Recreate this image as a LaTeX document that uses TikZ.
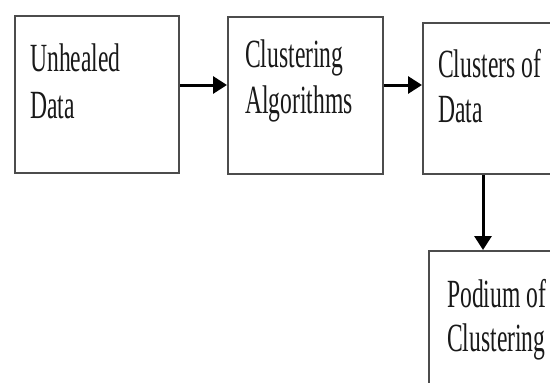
\documentclass[tikz,border=0pt]{standalone}
\usepackage{fontspec}
\setmainfont{Liberation Serif}
\usetikzlibrary{arrows.meta}
\tikzset{
  box/.style={draw=black!70, line width=2pt, anchor=north west, inner sep=0pt},
  lbl/.style={anchor=base west, inner sep=0pt, text=black!90, align=left},
  flow/.style={line width=3pt, black, -{Triangle[length=14pt,width=17pt]}}
}
\newcommand{\sqtext}[1]{\scalebox{0.59}[1]{\fontsize{40}{46}\selectfont #1}}
\begin{document}
\begin{tikzpicture}[x=1pt,y=-1pt]
\useasboundingbox (0,0) rectangle (550,383);
\clip (0,0) rectangle (550,383);
\fill[white] (0,0) rectangle (550,383);
\node[box, minimum width=164pt, minimum height=157pt] (b1) at (14,15) {};
\node[box, minimum width=155pt, minimum height=157pt] (b2) at (227,16) {};
\node[box, minimum width=140pt, minimum height=151pt] (b3) at (422,22) {};
\node[box, minimum width=135pt, minimum height=150pt] (b4) at (428,250) {};
\node[lbl] (t1a) at (30,71) {\sqtext{Unhealed}};
\node[lbl] (t1b) at (30,118) {\sqtext{Data}};
\node[lbl] (t2a) at (245,67) {\sqtext{Clustering}};
\node[lbl] (t2b) at (245,113) {\sqtext{Algorithms}};
\node[lbl] (t3a) at (438,77) {\sqtext{Clusters of}};
\node[lbl] (t3b) at (438,122) {\sqtext{Data}};
\node[lbl] (t4a) at (447,307) {\sqtext{Podium of}};
\node[lbl] (t4b) at (447,351) {\sqtext{Clustering}};
\draw[flow] ([yshift=9.5pt]b1.east) -- ([yshift=9.5pt]b1.east -| b2.west);
\draw[flow] ([yshift=10.5pt]b2.east) -- ([yshift=10.5pt]b2.east -| b3.west);
\draw[flow] ([xshift=-10pt]b3.south) -- ([xshift=-10pt]b3.south |- b4.north);
\end{tikzpicture}
\end{document}
